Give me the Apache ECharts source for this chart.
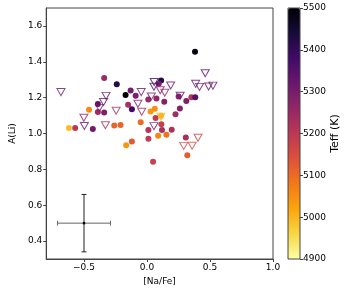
<!DOCTYPE html>
<html><head><meta charset="utf-8">
<script src="https://cdn.jsdelivr.net/npm/echarts@6/dist/echarts.min.js"></script>
<style>html,body{margin:0;padding:0;background:#fff}#c{width:349px;height:291px}</style>
</head><body><div id="c"></div>
<script>
// Detections (filled circles)
const detNaFe = [-0.34,-0.24,-0.17,-0.13,-0.09,-0.15,-0.12,-0.39,-0.39,-0.34,-0.46,-0.62,-0.57,-0.43,-0.26,-0.21,-0.165,-0.12,-0.05,0.01,0.075,0.137,0.112,0.093,0.028,0.062,0.068,0.112,0.114,0.011,0.119,0.196,0.088,0.154,0.011,0.048,0.251,0.312,0.261,0.226,0.352,0.383,0.381,0.308,0.320];
const detALi  = [1.31,1.275,1.215,1.24,1.21,1.16,1.135,1.165,1.12,1.117,1.133,1.03,1.03,1.025,1.045,1.047,0.934,0.956,1.063,1.19,1.195,1.177,1.296,1.278,1.123,1.138,1.086,1.099,1.051,1.019,1.019,1.021,0.987,0.993,0.971,0.842,1.207,1.181,1.139,1.107,1.202,1.202,1.456,0.978,0.879];
const detTeff = [5250,5420,5500,5300,5290,5230,5380,5340,5240,5290,5060,4990,5200,5310,5110,5110,5040,5130,5100,5250,5260,5280,5420,5300,5040,5050,5190,5000,5180,5210,5220,5220,5060,5090,5190,5180,5270,5290,5280,5240,5210,5350,5480,5230,5120];
// Upper limits (open down-triangles)
const limNaFe = [-0.683,-0.325,-0.345,-0.378,-0.501,-0.497,-0.33,-0.245,-0.046,-0.072,-0.042,0.057,0.055,0.105,0.141,0.188,0.034,0.263,0.055,0.110,0.462,0.386,0.417,0.489,0.523,0.405,0.291,0.358];
const limALi  = [1.231,1.21,1.176,1.143,1.088,1.042,1.046,1.127,1.231,1.166,1.121,1.287,1.261,1.241,1.227,1.268,1.206,1.211,1.041,1.094,1.336,1.277,1.26,1.262,1.267,0.976,0.931,0.932];
const limTeff = [5330,5320,5330,5300,5270,5320,5220,5230,5320,5280,5240,5380,5350,5280,5260,5320,5300,5320,5320,5000,5340,5330,5330,5320,5330,5170,5160,5150];
// Typical error bar
const errCenter = [-0.5, 0.5];
const errSize = [0.21, 0.16];
// Ticks
const xTicks = [-0.5, 0.0, 0.5, 1.0];
const yTicks = [0.4, 0.6, 0.8, 1.0, 1.2, 1.4, 1.6];
const cbTicks = [4900, 5000, 5100, 5200, 5300, 5400, 5500];
const teffRange = [4900, 5500];
const infernoR = ['#fcffa4','#f6d746','#fca50a','#f37819','#dd513a','#bc3754','#932667','#6a176e','#420a68','#160b39','#000004'];

const fmt = v => v.toFixed(1).replace('-', '\u2212');
const F = 'DejaVu Sans';
const chart = echarts.init(document.getElementById('c'), null, {renderer:'canvas'});
const detData = detNaFe.map((x,i)=>[x, detALi[i], detTeff[i]]);
const limData = limNaFe.map((x,i)=>({
  value:[x, limALi[i], limTeff[i]],
  itemStyle:{borderColor: echarts.color.lerp((limTeff[i]-teffRange[0])/(teffRange[1]-teffRange[0]), infernoR)}
}));
const frame = '#444';
chart.setOption({
  animation:false,
  textStyle:{fontFamily:F},
  grid:[
    {left:37, right:76, top:8, bottom:32, show:true, borderColor:frame, borderWidth:1, backgroundColor:'transparent'},
    {left:288, width:12, top:8, height:251, show:true, borderColor:frame, borderWidth:1, backgroundColor:'transparent', z:10}
  ],
  xAxis:[
    {gridIndex:0, type:'value', min:-0.8, max:1.0, name:'[Na/Fe]', nameLocation:'middle', nameGap:18,
     nameTextStyle:{fontSize:9, color:'#000', fontFamily:F},
     splitLine:{show:false}, axisLine:{show:true, onZero:false, lineStyle:{color:frame}},
     axisTick:{show:true, length:3, customValues:xTicks, lineStyle:{color:frame}},
     axisLabel:{customValues:xTicks, formatter:fmt, fontSize:9, color:'#000', margin:4, fontFamily:F}},
    {gridIndex:1, type:'category', data:['c'], show:false}
  ],
  yAxis:[
    {gridIndex:0, type:'value', min:0.3, max:1.7, name:'A(Li)', nameLocation:'middle', nameGap:24,
     nameTextStyle:{fontSize:9, color:'#000', fontFamily:F},
     splitLine:{show:false}, axisLine:{show:true, onZero:false, lineStyle:{color:frame}},
     axisTick:{show:true, length:3, customValues:yTicks, lineStyle:{color:frame}},
     axisLabel:{customValues:yTicks, formatter:v=>v.toFixed(1), fontSize:9, color:'#000', margin:4, fontFamily:F}},
    {gridIndex:1, type:'value', min:teffRange[0], max:teffRange[1], position:'right', name:'Teff (K)', nameLocation:'middle', nameGap:29, nameRotate:90,
     nameTextStyle:{fontSize:11, color:'#000', fontFamily:F},
     splitLine:{show:false}, axisLine:{show:false},
     axisTick:{show:true, length:3, customValues:cbTicks, lineStyle:{color:frame}},
     axisLabel:{customValues:cbTicks, formatter:v=>String(v), fontSize:9, color:'#000', margin:3, fontFamily:F}}
  ],
  visualMap:{
    type:'continuous', min:teffRange[0], max:teffRange[1], dimension:2, seriesIndex:0,
    calculable:false, realtime:false, left:288, top:8, itemWidth:12, itemHeight:251, padding:0,
    text:null, showLabel:false, inRange:{color:infernoR}, hoverLink:false
  },
  series:[
    {type:'scatter', xAxisIndex:0, yAxisIndex:0, data:detData, symbol:'circle', symbolSize:6, itemStyle:{opacity:1}, z:2},
    {type:'scatter', xAxisIndex:0, yAxisIndex:0, data:limData, symbol:'triangle', symbolRotate:180, symbolSize:[8,7],
     itemStyle:{color:'rgba(0,0,0,0)', borderWidth:1}, z:3},
    {type:'custom', xAxisIndex:0, yAxisIndex:0, data:[errCenter.concat(errSize)], z:4,
     renderItem:(p, api)=>{
       const x=api.value(0), y=api.value(1), ex=api.value(2), ey=api.value(3);
       const c=api.coord([x,y]), l=api.coord([x-ex,y]), r=api.coord([x+ex,y]), t=api.coord([x,y+ey]), b=api.coord([x,y-ey]);
       const cap=2.5, hs={stroke:'#666', lineWidth:1}, vs={stroke:'#222', lineWidth:1};
       return {type:'group', children:[
         {type:'line', shape:{x1:l[0],y1:l[1],x2:r[0],y2:r[1]}, style:hs},
         {type:'line', shape:{x1:l[0],y1:l[1]-cap,x2:l[0],y2:l[1]+cap}, style:hs},
         {type:'line', shape:{x1:r[0],y1:r[1]-cap,x2:r[0],y2:r[1]+cap}, style:hs},
         {type:'line', shape:{x1:t[0],y1:t[1],x2:b[0],y2:b[1]}, style:vs},
         {type:'line', shape:{x1:t[0]-cap,y1:t[1],x2:t[0]+cap,y2:t[1]}, style:vs},
         {type:'line', shape:{x1:b[0]-cap,y1:b[1],x2:b[0]+cap,y2:b[1]}, style:vs},
         {type:'rect', shape:{x:c[0]-1.2,y:c[1]-1.2,width:2.4,height:2.4}, style:{fill:'#000'}}
       ]};
     }}
  ]
});
</script></body></html>
